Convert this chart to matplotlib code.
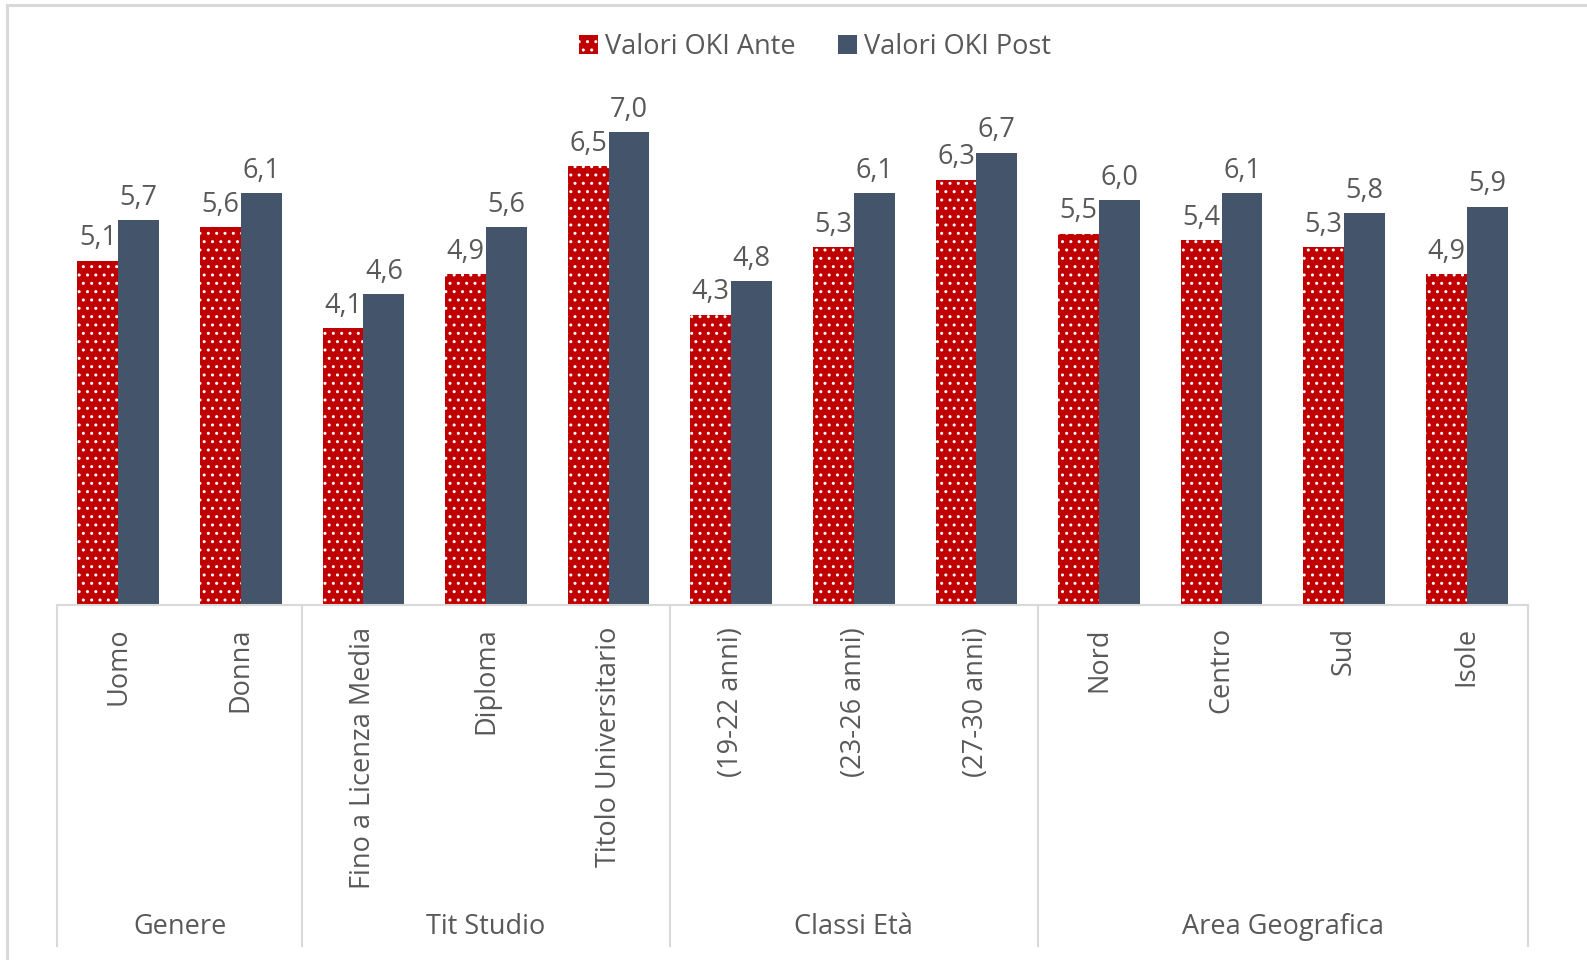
import numpy as np
import matplotlib.pyplot as plt
from matplotlib.patches import Rectangle, Patch
from matplotlib.lines import Line2D

plt.rcParams['font.family'] = ['Open Sans', 'DejaVu Sans']
plt.rcParams['hatch.linewidth'] = 1.0

categories = ['Uomo', 'Donna', 'Fino a Licenza Media', 'Diploma', 'Titolo Universitario',
              '(19-22 anni)', '(23-26 anni)', '(27-30 anni)', 'Nord', 'Centro', 'Sud', 'Isole']
groups = ['Genere', 'Tit Studio', 'Classi Età', 'Area Geografica']
group_sizes = [2, 3, 3, 4]
ante = [5.1, 5.6, 4.1, 4.9, 6.5, 4.3, 5.3, 6.3, 5.5, 5.4, 5.3, 4.9]
post = [5.7, 6.1, 4.6, 5.6, 7.0, 4.8, 6.1, 6.7, 6.0, 6.1, 5.8, 5.9]

RED = '#C00000'
BLUE = '#44546A'
GRAY = '#595959'
LINE = '#D9D9D9'
FS = 19.5

W, H = 1587, 960
fig = plt.figure(figsize=(W / 100, H / 100), dpi=100)

# outer frame of the chart area
fig.patches.append(Rectangle((7 / W, -0.01), 1.1, (H - 5) / H + 0.01, transform=fig.transFigure,
                             fill=False, edgecolor=LINE, linewidth=2.2))

x0, x1, base, top = 57, 1528, 605, 65
ax = fig.add_axes([x0 / W, (H - base) / H, (x1 - x0) / W, (base - top) / H])
ax.set_xlim(-0.5, len(categories) - 0.5)
ax.set_ylim(0, 8)
ax.axis('off')

x = np.arange(len(categories))
bw = 0.333
b1 = ax.bar(x - bw / 2, ante, bw, color=RED, edgecolor='white', linewidth=0, hatch='..')
b2 = ax.bar(x + bw / 2, post, bw, color=BLUE, linewidth=0)

for bars, vals in ((b1, ante), (b2, post)):
    for r, v in zip(bars, vals):
        ax.annotate(f'{v:.1f}'.replace('.', ','), (r.get_x() + r.get_width() / 2, v),
                    xytext=(0, 6), textcoords='offset points', ha='center', va='bottom',
                    fontsize=FS, color=GRAY)

# category axis: baseline, group separators, labels
trans = ax.get_xaxis_transform()
ax.add_line(Line2D([-0.5, len(categories) - 0.5], [0, 0], color=LINE, lw=1.5, clip_on=False))
sep_bottom = -(946 - base) / (base - top)
edges = np.concatenate([[0], np.cumsum(group_sizes)]) - 0.5
for e in edges:
    ax.add_line(Line2D([e, e], [0, sep_bottom], transform=trans, color=LINE, lw=1.5, clip_on=False))

lab_y = -(627 - base) / (base - top)
for xi, c in zip(x, categories):
    ax.text(xi, lab_y, c, transform=trans, rotation=90, ha='center', va='top',
            fontsize=FS, color=GRAY)

grp_y = -(927 - base) / (base - top)
for i, g in enumerate(groups):
    ax.text((edges[i] + edges[i + 1]) / 2, grp_y, g, transform=trans, ha='center', va='center',
            fontsize=FS, color=GRAY)

handles = [Patch(facecolor=RED, edgecolor='white', linewidth=0, hatch='..', label='Valori OKI Ante'),
           Patch(facecolor=BLUE, linewidth=0, label='Valori OKI Post')]
fig.legend(handles=handles, loc='center', bbox_to_anchor=(815 / W, 1 - 47 / H), ncol=2,
           frameon=False, fontsize=FS, labelcolor=GRAY, handlelength=0.7, handleheight=0.7,
           handletextpad=0.25, columnspacing=1.6)

fig.savefig('out.png', dpi=100, facecolor='white')
